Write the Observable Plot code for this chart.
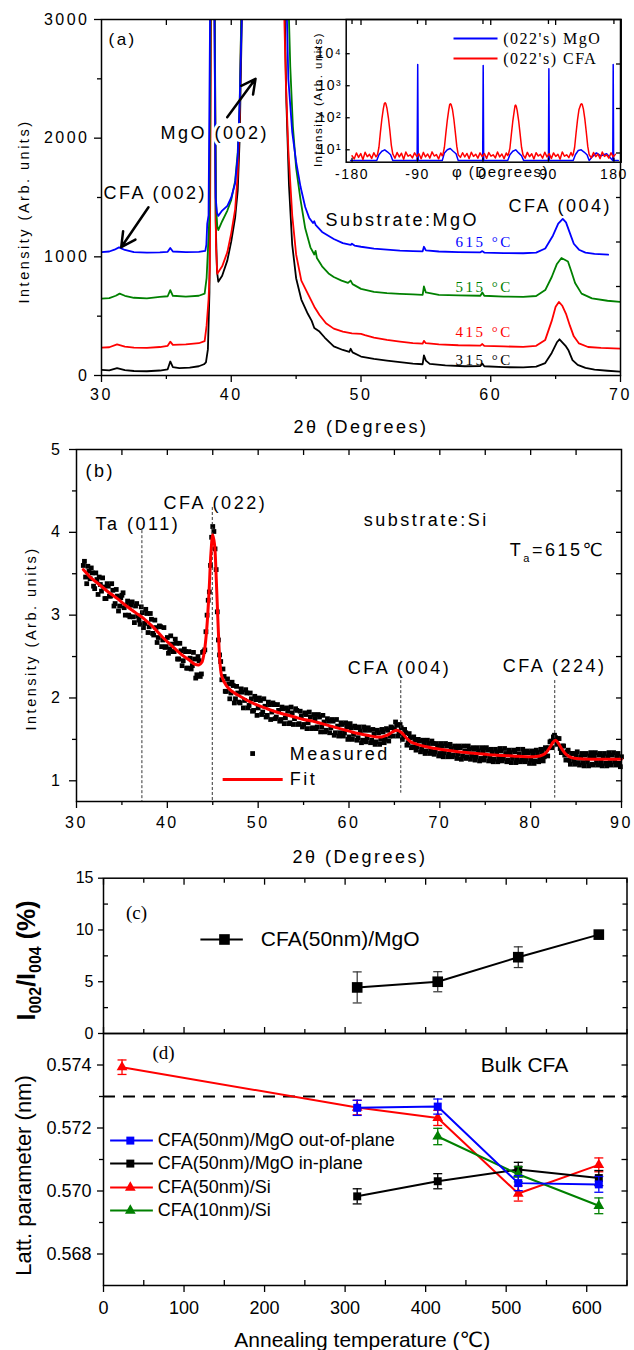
<!DOCTYPE html>
<html><head><meta charset="utf-8">
<script src="https://cdn.jsdelivr.net/npm/d3@7"></script>
<script src="https://cdn.jsdelivr.net/npm/@observablehq/plot@0.6"></script>
<style>
html,body{margin:0;padding:0;background:#fff}
#wrap{position:relative;width:634px;height:1350px;overflow:hidden;background:#fff}
</style></head>
<body><div id="wrap"></div>
<script>
// ================= DATA =================
// Panel (a): XRD scans of CFA(50nm)/MgO, [2θ (deg), intensity (arb. units)]
const scan315 = [[30.0,48],[30.6,44],[31.2,62],[31.8,46],[32.5,38],[33.5,36],[34.5,42],[35.1,52],[35.3,118],[35.5,70],[36.0,62],[36.8,66],[37.5,78],[37.9,95],[38.05,110],[38.2,220],[38.32,700],[38.42,3200],[38.7,3200],[38.8,1300],[38.9,880],[39.0,790],[39.3,840],[39.7,970],[40.0,1130],[40.3,1330],[40.5,1560],[40.65,2000],[40.75,2600],[40.85,3200],[44.1,3200],[44.25,2300],[44.45,1600],[44.7,1100],[45.0,820],[45.4,640],[45.9,520],[46.2,460],[46.4,400],[46.8,370],[47.2,320],[47.9,245],[48.6,215],[49.1,200],[49.2,225],[49.35,195],[50.0,160],[51.0,140],[52.0,125],[53.0,112],[54.0,100],[54.75,95],[54.85,170],[55.0,125],[55.3,98],[56.5,85],[58.0,78],[59.2,80],[59.35,100],[59.5,78],[61.0,70],[62.5,68],[63.5,75],[64.2,105],[64.7,190],[65.1,280],[65.3,305],[65.55,275],[65.8,245],[66.0,210],[66.3,130],[66.7,90],[67.3,65],[68.0,50],[69.0,40],[70.0,32]];
const scan415 = [[30.0,235],[30.6,238],[31.2,262],[31.8,244],[32.5,235],[33.5,233],[34.5,240],[35.1,250],[35.3,285],[35.5,258],[36.5,262],[37.5,272],[37.95,290],[38.1,420],[38.25,640],[38.35,900],[38.45,3200],[38.72,3200],[38.82,1100],[38.92,857],[39.3,920],[39.7,1040],[40.0,1200],[40.3,1400],[40.5,1700],[40.65,2200],[40.8,3200],[44.05,3200],[44.2,2500],[44.4,1900],[44.7,1350],[45.0,1020],[45.4,800],[45.9,690],[46.4,580],[46.8,510],[47.3,440],[47.9,395],[48.6,370],[49.3,355],[50.0,350],[50.3,340],[51.0,320],[52.0,300],[53.0,285],[54.0,272],[54.75,268],[54.85,292],[55.0,272],[56.0,262],[57.5,255],[59.2,252],[59.35,265],[59.5,250],[61.0,245],[62.5,242],[63.5,250],[64.2,300],[64.7,460],[65.0,580],[65.25,620],[65.5,590],[65.8,520],[66.1,420],[66.4,330],[66.8,270],[67.5,240],[68.5,232],[70.0,226]];
const scan515 = [[30.0,648],[30.6,652],[31.1,672],[31.4,690],[31.8,672],[32.5,655],[33.5,650],[34.5,662],[35.1,668],[35.3,720],[35.5,672],[36.5,665],[37.5,672],[37.95,690],[38.1,820],[38.2,1050],[38.3,1300],[38.42,3200],[38.72,3200],[38.82,1450],[38.92,1260],[39.0,1225],[39.3,1300],[39.7,1390],[40.0,1480],[40.3,1640],[40.5,1880],[40.65,2300],[40.8,3200],[44.4,3200],[44.55,2600],[44.75,2100],[45.0,1750],[45.34,1480],[45.7,1240],[46.1,1080],[46.4,1020],[46.5,1050],[46.6,990],[47.0,920],[47.5,860],[47.9,830],[48.5,800],[49.0,780],[49.2,800],[49.35,770],[50.0,730],[51.0,705],[52.0,695],[53.0,688],[54.0,683],[54.75,680],[54.85,750],[55.0,700],[56.0,680],[57.5,675],[59.2,672],[59.35,700],[59.5,672],[61.0,665],[62.5,662],[63.5,670],[64.2,720],[64.7,830],[65.1,940],[65.45,990],[65.7,975],[65.95,960],[66.2,880],[66.5,780],[67.0,690],[67.8,650],[69.0,630],[70.0,620]];
const scan615 = [[30.0,1040],[30.6,1045],[31.0,1060],[31.35,1080],[31.8,1058],[32.5,1040],[33.5,1035],[34.5,1038],[35.1,1042],[35.3,1075],[35.5,1045],[36.5,1040],[37.5,1042],[38.0,1050],[38.08,1100],[38.15,1280],[38.25,1350],[38.38,3200],[38.7,3200],[38.8,1500],[38.9,1370],[39.0,1345],[39.3,1390],[39.7,1430],[40.0,1500],[40.3,1620],[40.5,1850],[40.65,2300],[40.85,3200],[44.25,3200],[44.4,2500],[44.7,2050],[45.0,1800],[45.34,1590],[45.7,1420],[46.0,1330],[46.3,1285],[46.4,1300],[46.5,1270],[47.0,1210],[47.9,1150],[48.6,1115],[49.2,1100],[49.3,1110],[49.5,1095],[50.0,1085],[51.0,1070],[52.0,1060],[53.0,1052],[54.0,1048],[54.75,1046],[54.85,1085],[55.0,1055],[56.0,1045],[57.5,1040],[59.2,1038],[59.35,1048],[59.5,1036],[61.0,1032],[62.5,1030],[63.5,1035],[64.2,1070],[64.8,1180],[65.2,1280],[65.55,1320],[65.8,1290],[66.1,1200],[66.4,1110],[66.8,1060],[67.3,1035],[68.0,1025],[69.05,1018]];
const scanLabels = ["315 °C", "415 °C", "515 °C", "615 °C"];
const scanLabelY = [126, 362, 742, 1121];
const scanLabelX = 57.28;
const notesA = [{x:30.15, y:1534, text:"CFA (002)"}, {x:47.26, y:1306, text:"Substrate:MgO"}, {x:61.37, y:1424, text:"CFA (004)"}];
const noteMgO = [{x:34.55, y:2039, text:"MgO (002)"}];
const arrowsA = [{x1:39.69, y1:2177, x2:41.87, y2:2500}, {x1:33.62, y1:1418, x2:31.52, y2:1081}];

// Inset: phi scans, [phi (deg), intensity]
const phiMgO = [[-182,4.6],[-146,4.6],[-143,7],[-139,9],[-135,10],[-131,8.5],[-127,7],[-124,4.6],[-90.5,4.6],[-89.7,4640],[-89,4.6],[-56,4.6],[-53,8],[-49,10],[-45,11],[-41,9],[-37,7.5],[-34,4.6],[-0.4,4.6],[0.3,4300],[1,4.6],[34,4.6],[37,7],[41,9],[45,10],[49,8],[53,6.5],[56,4.6],[90,4.6],[90.6,3400],[91.2,4.6],[124,4.6],[127,7],[131,9.5],[135,10],[139,8.5],[143,7],[146,4.6],[150,6],[156,8],[162,6.5],[170,7.5],[178.4,4.6],[179,4640],[179.6,4.6],[186,4.6]];
const phiCFA = [[-180,6.5],[-177,5.2],[-174,8.0],[-171,5.8],[-168,7.6],[-165,5.0],[-162,8.4],[-159,6.1],[-156,7.2],[-153,5.4],[-150,8.1],[-147,6.0],
 [-145,7.0],[-143,12],[-141,35],[-139,90],[-137,190],[-135.5,280],[-134.5,295],[-133.5,275],[-132,200],[-130,100],[-128,40],[-126,14],[-124,7.5],
 [-121,5.5],[-118,8.2],[-115,6.0],[-112,7.8],[-109,5.1],[-106,8.5],[-103,6.3],[-100,7.0],[-97,5.6],[-94,8.0],[-91,6.2],[-88,7.5],[-85,5.3],[-82,8.3],[-79,6.0],[-76,7.4],[-73,5.5],[-70,8.6],[-67,6.4],[-64,7.1],[-61,5.2],[-58,8.0],[-56,6.5],
 [-55,7.2],[-53,12],[-51,33],[-49,85],[-47,180],[-45.7,260],[-44.7,275],[-43.7,255],[-42,185],[-40,90],[-38,35],[-36,13],[-34,7],
 [-31,5.8],[-28,8.1],[-25,6.0],[-22,7.7],[-19,5.3],[-16,8.4],[-13,6.2],[-10,7.3],[-7,5.5],[-4,8.0],[-1,6.1],[2,7.6],[5,5.4],[8,8.2],[11,6.3],[14,7.0],[17,5.6],[20,8.5],[23,6.0],[26,7.4],[29,5.3],[32,8.0],[34,6.6],
 [35,7.3],[37,11],[39,30],[41,78],[43,165],[44,235],[44.7,250],[45.7,232],[47,170],[49,82],[51,32],[53,12],[55,7],
 [58,5.5],[61,8.3],[64,6.1],[67,7.5],[70,5.2],[73,8.1],[76,6.4],[79,7.2],[82,5.5],[85,8.4],[88,6.0],[91,7.6],[94,5.4],[97,8.0],[100,6.2],[103,7.3],[106,5.1],[109,8.6],[112,6.3],[115,7.0],[118,5.7],[121,8.2],[123,6.4],
 [124,7.2],[126,12],[128,34],[130,88],[132,182],[134.5,262],[135.5,275],[136.5,258],[138,190],[140,92],[142,36],[144,13],[146,7],
 [149,5.6],[152,8.2],[155,6.1],[158,7.4],[161,5.3],[164,8.5],[167,6.2],[170,7.0],[173,5.5],[176,8.1],[179,6.0],[182,7.2]];
const insetLegendNames = ["(022's) MgO", "(022's) CFA"];
const insetLegendY = [30100, 7130];

// Panel (b): CFA on Si, Ta = 615 °C. Measured points on two interleaved 0.25° grids
const measuredStart = 30.75, measuredStep = 0.25;
const measured = [3.60,
 3.46,3.59,3.44,3.51, 3.32,3.43,3.46,3.29, 3.34,3.20,3.35,3.23, 3.30,3.14,3.23,3.11, 3.24,3.09,3.12,3.00,
 3.12,2.98,3.11,2.99, 2.89,3.03,2.90,3.02, 2.86,2.95,2.76,2.85, 2.73,2.86,2.70,2.61, 2.73,2.59,2.65,2.56,
 2.66,2.47,2.57,2.45, 2.56,2.36,2.48,2.39, 2.47,2.28,2.45,2.29, 2.56,2.80,3.18,3.60, 4.07,3.80,3.04,2.52,
 2.22,2.26,2.08,2.17, 2.06,2.15,1.99,2.06, 1.94,2.07,1.97,2.06, 1.91,1.99,1.85,1.98, 1.88,1.97,1.83,1.90,
 1.79,1.92,1.83,1.92, 1.77,1.85,1.74,1.87, 1.76,1.84,1.70,1.82, 1.75,1.85,1.69,1.78, 1.68,1.80,1.70,1.77,
 1.64,1.75,1.65,1.77, 1.65,1.71,1.61,1.72, 1.64,1.72,1.58,1.66, 1.58,1.68,1.58,1.65, 1.53,1.64,1.56,1.64,
 1.52,1.60,1.49,1.61, 1.52,1.61,1.49,1.56, 1.47,1.58,1.50,1.59, 1.50,1.61,1.54,1.64, 1.62,1.67,1.57,1.64,
 1.53,1.58,1.46,1.52, 1.41,1.49,1.41,1.48, 1.38,1.45,1.36,1.45, 1.37,1.45,1.35,1.42, 1.33,1.42,1.34,1.42,
 1.32,1.39,1.31,1.39, 1.32,1.40,1.30,1.36, 1.29,1.38,1.30,1.38, 1.29,1.36,1.27,1.36, 1.30,1.37,1.27,1.34,
 1.26,1.35,1.28,1.36, 1.27,1.33,1.25,1.34, 1.27,1.35,1.26,1.32, 1.25,1.34,1.26,1.34, 1.25,1.32,1.24,1.34,
 1.27,1.35,1.29,1.38, 1.40,1.48,1.53,1.52, 1.51,1.39,1.42,1.31, 1.35,1.25,1.33,1.24, 1.31,1.22,1.29,1.22,
 1.31,1.23,1.30,1.20, 1.29,1.22,1.31,1.23, 1.30,1.21,1.29,1.22, 1.31,1.23,1.30,1.21,
 1.29];
const measured2Start = 30.875;
const measured2 = [3.65,
 3.38,3.53,3.57,3.35, 3.51,3.25,3.37,3.45, 3.20,3.38,3.23,3.38, 3.11,3.31,3.05,3.21, 3.27,3.00,3.17,2.98,
 3.16,2.91,3.14,2.94, 3.10,2.85,3.07,2.79, 3.02,2.78,2.94,2.67, 2.87,2.62,2.85,2.62, 2.54,2.75,2.56,2.71,
 2.47,2.66,2.39,2.59, 2.36,2.56,2.35,2.55, 2.24,2.50,2.26,2.55, 2.58,3.00,3.28,3.94, 4.01,3.55,2.70,2.44,
 2.35,2.08,2.23,1.99, 2.19,1.94,2.14,1.95, 2.11,1.88,2.10,1.88, 2.06,1.84,2.02,1.79, 2.00,1.80,1.99,1.77,
 1.95,1.74,1.94,1.75, 1.92,1.72,1.89,1.69, 1.88,1.69,1.89,1.68, 1.87,1.68,1.84,1.65, 1.82,1.63,1.83,1.63,
 1.80,1.63,1.80,1.59, 1.79,1.59,1.75,1.58, 1.74,1.55,1.74,1.54, 1.70,1.54,1.70,1.50, 1.69,1.50,1.66,1.49,
 1.65,1.46,1.65,1.47, 1.64,1.46,1.62,1.44, 1.61,1.44,1.62,1.46, 1.63,1.48,1.65,1.54, 1.71,1.54,1.68,1.50,
 1.62,1.43,1.57,1.40, 1.53,1.37,1.50,1.35, 1.49,1.33,1.49,1.33, 1.48,1.32,1.45,1.30, 1.45,1.29,1.45,1.29,
 1.44,1.29,1.42,1.27, 1.42,1.26,1.42,1.27, 1.42,1.26,1.40,1.25, 1.40,1.24,1.40,1.25, 1.40,1.24,1.38,1.23,
 1.38,1.23,1.39,1.24, 1.39,1.23,1.37,1.22, 1.37,1.22,1.38,1.23, 1.38,1.23,1.36,1.21, 1.36,1.21,1.37,1.23,
 1.38,1.24,1.40,1.30, 1.47,1.40,1.55,1.44, 1.51,1.34,1.42,1.25, 1.37,1.20,1.33,1.20, 1.35,1.19,1.33,1.18,
 1.33,1.18,1.34,1.19, 1.34,1.19,1.33,1.18, 1.33,1.18,1.34,1.19, 1.34,1.19,1.33,1.17];
const fitCurve = [[30.75,3.55],[31.5,3.46],[32.5,3.37],[33.5,3.28],[34.5,3.20],[35.5,3.11],[36.5,3.03],[37.5,2.95],[38.5,2.85],[39.5,2.73],[40.5,2.63],[41.5,2.53],[42.5,2.45],[43.0,2.41],[43.5,2.40],[43.8,2.43],[44.1,2.58],[44.35,2.85],[44.6,3.30],[44.8,3.75],[45.0,3.97],[45.2,3.85],[45.4,3.40],[45.6,2.85],[45.8,2.42],[46.0,2.26],[46.5,2.15],[47.0,2.09],[48.0,2.02],[49.0,1.96],[50.0,1.91],[51.0,1.87],[52.0,1.83],[53.0,1.80],[54.0,1.77],[55.0,1.74],[56.0,1.72],[57.0,1.69],[58.0,1.66],[59.0,1.63],[60.0,1.60],[61.0,1.57],[62.0,1.55],[63.0,1.53],[63.6,1.53],[64.2,1.55],[64.8,1.59],[65.3,1.61],[65.8,1.58],[66.3,1.52],[66.8,1.47],[67.5,1.44],[68.5,1.41],[70.0,1.38],[72.0,1.35],[74.0,1.33],[76.0,1.31],[78.0,1.30],[80.0,1.29],[81.0,1.30],[81.6,1.33],[82.1,1.40],[82.5,1.47],[82.75,1.49],[83.0,1.46],[83.4,1.39],[83.9,1.32],[84.5,1.28],[85.5,1.265],[87.0,1.26],[90.0,1.26]];
const peakLines = [{x:37.2, top:4.02, bottom:0.75}, {x:44.95, top:4.30, bottom:0.75}, {x:65.7, top:2.27, bottom:0.85}, {x:82.65, top:2.21, bottom:0.79}];
const notesB = [{x:30.99, y:4.743, text:"(b)"}, {x:32.09, y:4.103, text:"Ta (011)"}, {x:39.59, y:4.357, text:"CFA (022)"}, {x:61.63, y:4.152, text:"substrate:Si"}, {x:77.71, y:3.778, text:"Ta=615℃"}, {x:59.86, y:2.354, text:"CFA (004)"}, {x:76.94, y:2.378, text:"CFA (224)"}];

// Panel (c): I002/I004 ratio vs annealing temperature
const ratioTemps = [315, 415, 515, 615];
const ratioValues = [4.45, 5.0, 7.37, 9.55];
const ratioErrors = [1.5, 0.97, 1.0, 0.35];

// Panel (d): lattice parameter vs annealing temperature
const latTempsMgO = [315, 415, 515, 615];
const latOutOfPlane = [0.57264, 0.57268, 0.57025, 0.57021];
const latOutOfPlaneErr = [0.00024, 0.00024, 0.00024, 0.00025];
const latInPlane = [0.56983, 0.57031, 0.57068, 0.57041];
const latInPlaneErr = [0.00024, 0.00024, 0.00023, 0.00024];
const latTempsSi50 = [23, 315, 415, 515, 615];
const latSi50 = [0.57393, 0.57265, 0.57232, 0.56992, 0.57083];
const latSi50Err = [0.00023, 0.00023, 0.00024, 0.00024, 0.00022];
const latTempsSi10 = [415, 515, 615];
const latSi10 = [0.57173, 0.57053, 0.56953];
const latSi10Err = [0.00026, 0.00024, 0.00025];
const bulkCFA = 0.573;
const latNames = ["CFA(50nm)/MgO out-of-plane", "CFA(50nm)/MgO in-plane", "CFA(50nm)/Si", "CFA(10nm)/Si"];
const latLegendY = [0.57160, 0.57087, 0.57011, 0.56938];

// ================= RENDERING =================
const SANS = "'Liberation Sans', Arial, 'DejaVu Sans', sans-serif";
const SERIF = "'Liberation Serif', 'Times New Roman', 'DejaVu Serif', serif";
const W = 634;
const wrap = document.getElementById("wrap");
function place(svg, top, left) {
  svg.style.position = "absolute";
  svg.style.top = top + "px";
  svg.style.left = (left || 0) + "px";
  svg.style.overflow = "visible";
  wrap.appendChild(svg);
  return svg;
}
const styleOf = (extra) => Object.assign({background: "none", color: "black", fontFamily: SANS}, extra);
const INSET = {bottom: "insetBottom", top: "insetTop", left: "insetLeft", right: "insetRight"};
function ticks(axis, values, anchor, size, inward, sw) {
  const f = axis === "x" ? Plot.axisX : Plot.axisY;
  const o = {anchor, tickSize: size, fill: "none", label: null, strokeWidth: sw || 1.3};
  if (inward) o[INSET[anchor]] = size;
  return f(values, o);
}
function labels(axis, values, anchor, pad, fmt, fontSize) {
  const f = axis === "x" ? Plot.axisX : Plot.axisY;
  return f(values, {anchor, tickSize: 0, tickPadding: pad, tickFormat: fmt, label: null, fontSize});
}
// axis titles: centered on the given frame side
const xTitle = (t, dx, dy, fontSize) => Plot.text([t], {frameAnchor: "bottom", dx, dy, fontSize, textAnchor: "middle", lineAnchor: "middle"});
const yTitle = (t, dx, dy, fontSize, extra) => Plot.text([t], {frameAnchor: "left", rotate: -90, dx, dy, fontSize, textAnchor: "middle", lineAnchor: "middle", ...extra});
const xy = {x: d => d[0], y: d => d[1]};
const scanColors = ["#000000", "#ff0000", "#008000", "#0000ff"];
const range = (a, b, s) => d3.range(a, b + s / 2, s);

// ---- Panel (a)
const svgA = Plot.plot({
  width: W, height: 445, marginLeft: 101, marginRight: 14, marginTop: 19, marginBottom: 70,
  x: {domain: [30, 70]}, y: {domain: [0, 3000]},
  style: styleOf({fontSize: "16px", letterSpacing: "2.5px"}),
  marks: [
    ...[scan315, scan415, scan515, scan615].map((s, i) => Plot.line(s, {...xy, stroke: scanColors[i], strokeWidth: 1.8, clip: true})),
    ...scanLabels.map((t, i) => Plot.text([t], {x: scanLabelX, y: scanLabelY[i], text: d => d, fill: scanColors[i], fontFamily: SERIF, fontSize: 15, textAnchor: "start"})),
    Plot.text(notesA, {x: "x", y: "y", text: "text", textAnchor: "start", fontSize: 18}),
    Plot.text(noteMgO, {x: "x", y: "y", text: "text", textAnchor: "start", fontSize: 18, stroke: "white", strokeWidth: 6, fill: "black"}),
    Plot.text(["(a)"], {x: 30.54, y: 2831, textAnchor: "start", fontSize: 17}),
    Plot.arrow(arrowsA, {x1: "x1", y1: "y1", x2: "x2", y2: "y2", stroke: "black", strokeWidth: 2.5, headLength: 12, headAngle: 55}),
    Plot.frame({stroke: "black", strokeWidth: 1.5}),
    ticks("x", [30, 40, 50, 60, 70], "bottom", 7, false),
    ticks("x", [35, 45, 55, 65], "bottom", 4, false),
    ticks("x", range(35, 65, 5), "top", 5, true),
    ticks("y", [0, 1000, 2000, 3000], "left", 7, false),
    ticks("y", [500, 1500, 2500], "left", 4, false),
    ticks("y", range(375, 2625, 375), "right", 5, true),
    labels("x", [30, 40, 50, 60, 70], "bottom", 13, d => String(d), 16),
    labels("y", [0, 1000, 2000, 3000], "left", 12, d => String(d), 16),
    xTitle("2θ (Degrees)", 0, 52, 18),
    yTitle("Intensity (Arb. units)", -77.5, 14, 14.5)
  ]
});
place(svgA, 0);

// ---- Inset of panel (a)
const svgInset = Plot.plot({
  width: 334, height: 190, marginLeft: 45.7, marginRight: 13.3, marginTop: 19, marginBottom: 28.3,
  x: {domain: [-188, 190]}, y: {type: "log", domain: [4.1, 1.17e5]},
  style: styleOf({fontSize: "14px", letterSpacing: "1.5px"}),
  marks: [
    Plot.line(phiMgO, {...xy, stroke: "#0000ff", strokeWidth: 1.5, clip: true}),
    Plot.line(phiCFA, {...xy, stroke: "#ff0000", strokeWidth: 1.5, clip: true}),
    ...insetLegendNames.map((n, i) => Plot.link([n], {x1: -40.5, x2: 20, y1: insetLegendY[i], y2: insetLegendY[i], stroke: i ? "#ff0000" : "#0000ff", strokeWidth: 2})),
    ...insetLegendNames.map((n, i) => Plot.text([n], {x: 27.8, y: insetLegendY[i], text: d => d, textAnchor: "start", fontFamily: SERIF, fontSize: 16})),
    Plot.frame({stroke: "black", strokeWidth: 1.5}),
    ticks("x", [-180, -90, 0, 90, 180], "bottom", 4, true),
    ticks("x", [-180, -90, 0, 90, 180], "top", 4, true),
    ticks("y", [10, 100, 1000, 10000], "left", 4, true),
    labels("x", [-180, -90, 0, 90, 180], "bottom", 7, d => String(d), 14),
    labels("y", [10, 100, 1000, 10000], "left", 4, d => "10" + "¹²³⁴"[Math.round(Math.log10(d)) - 1], 14),
    xTitle("φ (Degrees)", 16.8, 10.3, 15),
    yTitle("Intensity (Arb. units)", -27.7, 8.6, 11.5)
  ]
});
place(svgInset, 0, 300);

// ---- Panel (b)
const svgB = Plot.plot({
  width: W, height: 435, marginLeft: 76, marginRight: 13, marginTop: 9, marginBottom: 74,
  x: {domain: [30, 90]}, y: {domain: [0.75, 5]},
  style: styleOf({fontSize: "16px", letterSpacing: "2.5px"}),
  marks: [
    Plot.dot(measured, {x: (d, i) => measuredStart + i * measuredStep, y: d => d, symbol: "square", r: 2.7, fill: "black"}),
    Plot.dot(measured2, {x: (d, i) => measured2Start + i * measuredStep, y: d => d, symbol: "square", r: 2.7, fill: "black"}),
    Plot.ruleX(peakLines, {x: "x", y1: "top", y2: "bottom", stroke: "#333", strokeWidth: 1, strokeDasharray: "3,2"}),
    Plot.line(fitCurve, {...xy, stroke: "#ff0000", strokeWidth: 3, curve: "catmull-rom"}),
    Plot.text(notesB, {x: "x", y: "y", text: "text", textAnchor: "start", fontSize: 18}),
    Plot.dot(["Measured"], {x: 49.39, y: 1.329, symbol: "square", r: 2.7, fill: "black"}),
    Plot.text(["Measured"], {x: 53.47, y: 1.317, text: d => d, textAnchor: "start", fontSize: 18}),
    Plot.link(["Fit"], {x1: 46.09, x2: 52.70, y1: 1.015, y2: 1.015, stroke: "#ff0000", strokeWidth: 3}),
    Plot.text(["Fit"], {x: 53.47, y: 1.015, text: d => d, textAnchor: "start", fontSize: 18}),
    Plot.frame({stroke: "black", strokeWidth: 1.5}),
    ticks("x", range(30, 90, 10), "bottom", 7, false),
    ticks("x", range(35, 85, 10), "bottom", 4, false),
    ticks("x", range(35, 85, 5), "top", 5, true),
    ticks("y", [1, 2, 3, 4, 5], "left", 7, false),
    ticks("y", [1.5, 2.5, 3.5, 4.5], "left", 4, false),
    ticks("y", range(1, 4.5, 0.5), "right", 6, true),
    labels("x", range(30, 90, 10), "bottom", 15, d => String(d), 16),
    labels("y", [1, 2, 3, 4, 5], "left", 14, d => String(d), 16),
    xTitle("2θ (Degrees)", 11, 56, 18),
    yTitle("Intensity (Arb. units)", -45, 13, 14.5)
  ]
});
place(svgB, 440);

// ---- Panel (c)
const capSymbol = {draw(ctx, size) { ctx.moveTo(-4.5, 0); ctx.lineTo(4.5, 0); }};
const ratioRows = ratioTemps.map((t, i) => ({t, v: ratioValues[i], e: ratioErrors[i]}));
const svgC = Plot.plot({
  width: W, height: 172, marginLeft: 103, marginRight: 7.5, marginTop: 9.7, marginBottom: 7,
  x: {domain: [0, 650]}, y: {domain: [0, 15]},
  style: styleOf({fontSize: "16px"}),
  marks: [
    Plot.ruleX(ratioRows, {x: "t", y1: d => d.v - d.e, y2: d => d.v + d.e, stroke: "#333", strokeWidth: 1.2}),
    Plot.dot(ratioRows, {x: "t", y: d => d.v - d.e, symbol: capSymbol, stroke: "#333", fill: "none", strokeWidth: 1.2}),
    Plot.dot(ratioRows, {x: "t", y: d => d.v + d.e, symbol: capSymbol, stroke: "#333", fill: "none", strokeWidth: 1.2}),
    Plot.line(ratioRows, {x: "t", y: "v", stroke: "black", strokeWidth: 2}),
    Plot.dot(ratioRows, {x: "t", y: "v", symbol: "square", r: 6, fill: "black"}),
    Plot.link(["CFA(50nm)/MgO"], {x1: 120.3, x2: 173, y1: 9.08, y2: 9.08, stroke: "black", strokeWidth: 2}),
    Plot.dot(["CFA(50nm)/MgO"], {x: 150.2, y: 9.08, symbol: "square", r: 6, fill: "black"}),
    Plot.text(["CFA(50nm)/MgO"], {x: 195.4, y: 9.08, text: d => d, textAnchor: "start", fontSize: 21}),
    Plot.text(["(c)"], {x: 41, y: 11.69, fontFamily: SERIF, fontSize: 19}),
    Plot.frame({stroke: "black", strokeWidth: 1.5}),
    ticks("x", range(0, 600, 100), "top", 6, true),
    ticks("x", range(50, 650, 100), "top", 4, true),
    ticks("x", range(0, 600, 100), "bottom", 6, true),
    ticks("x", range(50, 650, 100), "bottom", 4, true),
    ticks("y", [0, 5, 10, 15], "left", 5, false),
    ticks("y", [2.5, 7.5, 12.5], "left", 5, true),
    ticks("y", range(2.5, 12.5, 2.5), "right", 5, true),
    labels("y", [0, 5, 10, 15], "left", 10, d => String(d), 16),
    yTitle("I002/I004 (%)", -77, 4.6, 25, {fontWeight: "bold"})
  ]
});
place(svgC, 868);

// ---- Panel (d)
const rows = (t, v, e) => t.map((x, i) => ({t: x, v: v[i], e: e[i]}));
const latSeries = [
  {r: rows(latTempsMgO, latOutOfPlane, latOutOfPlaneErr), color: "#0000ff", symbol: "square"},
  {r: rows(latTempsMgO, latInPlane, latInPlaneErr), color: "#000000", symbol: "square"},
  {r: rows(latTempsSi50, latSi50, latSi50Err), color: "#ff0000", symbol: "triangle"},
  {r: rows(latTempsSi10, latSi10, latSi10Err), color: "#008000", symbol: "triangle"}
];
function seriesMarks(s) {
  const rad = s.symbol === "square" ? 4.5 : 4;
  return [
    Plot.line(s.r, {x: "t", y: "v", stroke: s.color, strokeWidth: 2}),
    Plot.ruleX(s.r, {x: "t", y1: d => d.v - d.e, y2: d => d.v + d.e, stroke: s.color, strokeWidth: 1.3}),
    Plot.dot(s.r, {x: "t", y: d => d.v - d.e, symbol: capSymbol, stroke: s.color, fill: "none", strokeWidth: 1.3}),
    Plot.dot(s.r, {x: "t", y: d => d.v + d.e, symbol: capSymbol, stroke: s.color, fill: "none", strokeWidth: 1.3}),
    Plot.dot(s.r, {x: "t", y: "v", symbol: s.symbol, r: rad, fill: s.color})
  ];
}
const legendMarks = latNames.flatMap((n, i) => {
  const s = latSeries[i];
  return [
    Plot.link([n], {x1: 8.2, x2: 61.3, y1: latLegendY[i], y2: latLegendY[i], stroke: s.color, strokeWidth: 2}),
    Plot.dot([n], {x: 33.3, y: latLegendY[i], symbol: s.symbol, r: s.symbol === "square" ? 4.5 : 4, fill: s.color}),
    Plot.text([n], {x: 67.4, y: latLegendY[i], text: d => d, textAnchor: "start", fontSize: 18})
  ];
});
const svgD = Plot.plot({
  width: W, height: 340, marginLeft: 103, marginRight: 7.5, marginTop: 8, marginBottom: 80,
  x: {domain: [0, 650]}, y: {domain: [0.567, 0.575]},
  style: styleOf({fontSize: "18px"}),
  marks: [
    Plot.ruleY([bulkCFA], {stroke: "black", strokeWidth: 2, strokeDasharray: "12,8"}),
    ...[2, 1, 3, 0].flatMap(i => seriesMarks(latSeries[i])),
    ...legendMarks,
    Plot.text(["Bulk CFA"], {x: 522.7, y: 0.57398, fontSize: 21}),
    Plot.text(["(d)"], {x: 74.5, y: 0.57437, fontFamily: SERIF, fontSize: 19}),
    Plot.frame({stroke: "black", strokeWidth: 1.5}),
    ticks("x", range(0, 600, 100), "bottom", 7, false),
    ticks("x", range(50, 650, 100), "bottom", 5, true),
    ticks("y", [0.568, 0.570, 0.572, 0.574], "left", 6, false),
    ticks("y", [0.569, 0.571, 0.573], "left", 4, false),
    ticks("y", range(0.568, 0.574, 0.001), "right", 6, true),
    labels("x", range(0, 600, 100), "bottom", 15.7, d => String(d), 18),
    labels("y", [0.568, 0.570, 0.572, 0.574], "left", 12, d => d.toFixed(3), 18),
    xTitle("Annealing temperature (℃)", -3, 55, 21),
    yTitle("Latt. parameter (nm)", -80, 16, 22)
  ]
});
place(svgD, 1025);

// ---- rich text (subscripts) kept as real text
function rewrite(svg, content, parts) {
  d3.select(svg).selectAll("text").filter(function() { return this.textContent === content; }).each(function() {
    const t = d3.select(this);
    t.text(null);
    for (const p of parts) {
      const s = t.append("tspan").text(p.text);
      if (p.size) s.attr("font-size", p.size);
      if (p.dy) s.attr("dy", p.dy);
    }
  });
}
rewrite(svgB, "Ta=615℃", [{text: "T"}, {text: "a", size: 11, dy: 6}, {text: "=615℃", dy: -6}]);
rewrite(svgC, "I002/I004 (%)", [{text: "I"}, {text: "002", size: 16, dy: 6}, {text: "/I", dy: -6}, {text: "004", size: 16, dy: 6}, {text: " (%)", dy: -6}]);
</script>
</body></html>
